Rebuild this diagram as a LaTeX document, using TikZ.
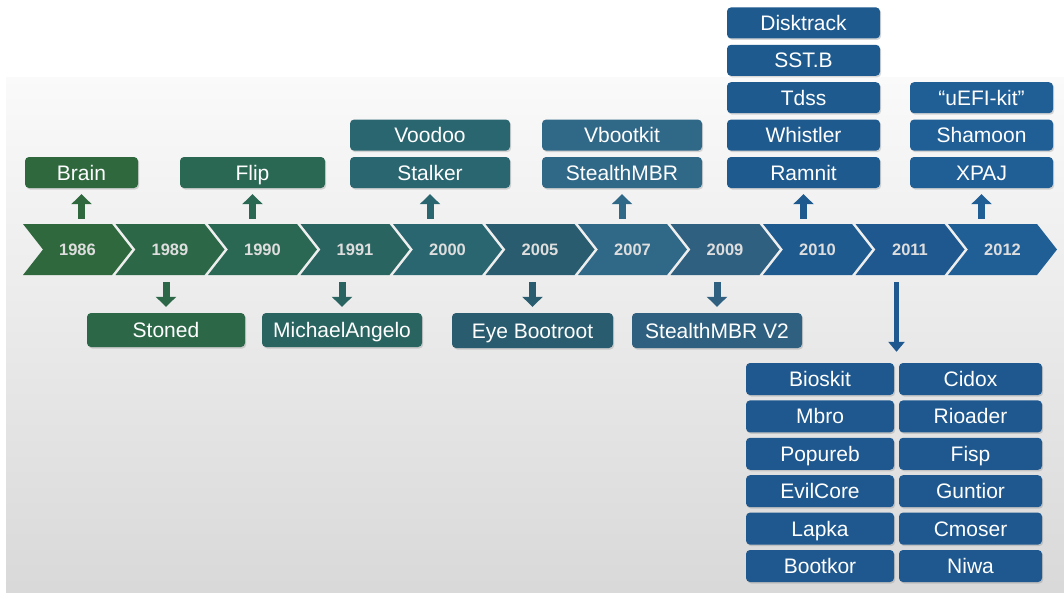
\documentclass[tikz,border=0pt]{standalone}
\usepackage{fontspec}
\setmainfont{Liberation Sans}
\usetikzlibrary{arrows.meta,positioning,shadows,calc}
\definecolor{tl1986}{RGB}{46,104,60}
\definecolor{tl1989}{RGB}{44,104,72}
\definecolor{tl1990}{RGB}{42,104,84}
\definecolor{tl1991}{RGB}{42,100,96}
\definecolor{tl2000}{RGB}{42,102,112}
\definecolor{tl2005}{RGB}{40,92,110}
\definecolor{tl2007}{RGB}{48,104,136}
\definecolor{tl2009}{RGB}{48,96,128}
\definecolor{tl2010}{RGB}{30,90,142}
\definecolor{tl2011}{RGB}{30,88,142}
\definecolor{tl2012}{RGB}{32,94,150}
\tikzset{
    kitbox/.style={rectangle,rounded corners=4pt,fill=#1,text=white,inner sep=0pt,
        minimum height=31pt,text height=17pt,text depth=2pt,font=\fontsize{21}{24}\selectfont,
        drop shadow={shadow xshift=1.2pt,shadow yshift=-1.5pt,opacity=0.3}},
    yearlabel/.style={text=white!87!black,font=\fontsize{16.5}{19}\selectfont\bfseries,
        text height=13pt,text depth=1pt,minimum width=70pt,minimum height=51pt,inner sep=0pt},
    jump/.style={draw=#1,line width=7pt,-{Triangle[width=20pt,length=10pt]}},
}

\begin{document}
\begin{tikzpicture}[x=1pt,y=-1pt]
    \path [use as bounding box,fill=white] (0,0) rectangle (1064,592);
    \path [top color=black!2,bottom color=black!15] (6,77) rectangle (1064,592);
    % timeline
    \foreach \yr [count=\i from 0] in {1986,1989,1990,1991,2000,2005,2007,2009,2010,2011,2012} {
        \path [fill=tl\yr] ({23+92.5*\i},224) -- ++(89,0) -- ++(20,25.5) -- ++(-20,25.5)
            -- ++(-89,0) -- ++(20,-25.5) -- cycle;
        \node (y\yr) at ({77.5+92.5*\i},249.5) [yearlabel] {\yr};
    }
    % above the line
    \node (brain) at (81.5,172.5) [kitbox=tl1986,minimum width=113pt] {Brain};
    \node (flip) at (252.5,172.5) [kitbox=tl1990,minimum width=145pt] {Flip};
    \node (stalker) at (430,172.5) [kitbox=tl2000,minimum width=160pt] {Stalker};
    \node (voodoo) [kitbox=tl2000,minimum width=160pt,above=6pt of stalker] {Voodoo};
    \node (stealthmbr) at (622,172.5) [kitbox=tl2007,minimum width=160pt] {StealthMBR};
    \node (vbootkit) [kitbox=tl2007,minimum width=160pt,above=6pt of stealthmbr] {Vbootkit};
    \node (ramnit) at (803.5,172.5) [kitbox=tl2010,minimum width=153pt] {Ramnit};
    \node (whistler) [kitbox=tl2010,minimum width=153pt,above=6pt of ramnit] {Whistler};
    \node (tdss) [kitbox=tl2010,minimum width=153pt,above=6pt of whistler] {Tdss};
    \node (sstb) [kitbox=tl2010,minimum width=153pt,above=6pt of tdss] {SST.B};
    \node (disktrack) [kitbox=tl2010,minimum width=153pt,above=6pt of sstb] {Disktrack};
    \node (xpaj) at (981.5,172.5) [kitbox=tl2012,minimum width=143pt] {XPAJ};
    \node (shamoon) [kitbox=tl2012,minimum width=143pt,above=6pt of xpaj] {Shamoon};
    \node (uefikit) [kitbox=tl2012,minimum width=143pt,above=6pt of shamoon] {“uEFI-kit”};
    % below the line
    \node (stoned) at (166,330) [kitbox=tl1989,minimum width=158pt,minimum height=34pt] {Stoned};
    \node (michael) at (342,330) [kitbox=tl1991,minimum width=160pt,minimum height=34pt] {MichaelAngelo};
    \node (eye) at (532.5,330.5) [kitbox=tl2005,minimum width=161pt,minimum height=35pt] {Eye Bootroot};
    \node (stealthv2) at (717,330.5) [kitbox=tl2009,minimum width=170pt,minimum height=35pt] {StealthMBR V2};
    % 2011 grid
    \node (bioskit) at (820,379) [kitbox=tl2011,minimum width=148pt,minimum height=32pt] {Bioskit};
    \node (mbro) [kitbox=tl2011,minimum width=148pt,minimum height=32pt,below=5pt of bioskit] {Mbro};
    \node (popureb) [kitbox=tl2011,minimum width=148pt,minimum height=32pt,below=5pt of mbro] {Popureb};
    \node (evilcore) [kitbox=tl2011,minimum width=148pt,minimum height=32pt,below=5pt of popureb] {EvilCore};
    \node (lapka) [kitbox=tl2011,minimum width=148pt,minimum height=32pt,below=5pt of evilcore] {Lapka};
    \node (bootkor) [kitbox=tl2011,minimum width=148pt,minimum height=32pt,below=5pt of lapka] {Bootkor};
    \node (cidox) at (970.5,379) [kitbox=tl2011,minimum width=143pt,minimum height=32pt] {Cidox};
    \node (rioader) [kitbox=tl2011,minimum width=143pt,minimum height=32pt,below=5pt of cidox] {Rioader};
    \node (fisp) [kitbox=tl2011,minimum width=143pt,minimum height=32pt,below=5pt of rioader] {Fisp};
    \node (guntior) [kitbox=tl2011,minimum width=143pt,minimum height=32pt,below=5pt of fisp] {Guntior};
    \node (cmoser) [kitbox=tl2011,minimum width=143pt,minimum height=32pt,below=5pt of guntior] {Cmoser};
    \node (niwa) [kitbox=tl2011,minimum width=143pt,minimum height=32pt,below=5pt of cmoser] {Niwa};
    \coordinate (split) at ($(bioskit.north east)!0.5!(cidox.north west)$);
    % arrows
    \path [jump=tl1986,shorten <=5pt,shorten >=6pt] (brain |- y1986.north) -- (brain.south);
    \path [jump=tl1990,shorten <=5pt,shorten >=6pt] (flip |- y1990.north) -- (flip.south);
    \path [jump=tl2000,shorten <=5pt,shorten >=6pt] (stalker |- y2000.north) -- (stalker.south);
    \path [jump=tl2007,shorten <=5pt,shorten >=6pt] (stealthmbr |- y2007.north) -- (stealthmbr.south);
    \path [jump=tl2010,shorten <=5pt,shorten >=6pt] (ramnit |- y2010.north) -- (ramnit.south);
    \path [jump=tl2012,shorten <=5pt,shorten >=6pt] (xpaj |- y2012.north) -- (xpaj.south);
    \path [jump=tl1989,shorten <=7pt,shorten >=6pt] (stoned |- y1989.south) -- (stoned.north);
    \path [jump=tl1991,shorten <=7pt,shorten >=6pt] (michael |- y1991.south) -- (michael.north);
    \path [jump=tl2005,shorten <=7pt,shorten >=6pt] (eye |- y2005.south) -- (eye.north);
    \path [jump=tl2009,shorten <=7pt,shorten >=6pt] (stealthv2 |- y2009.south) -- (stealthv2.north);
    \path [jump=tl2011,line width=5pt,-{Triangle[width=16pt,length=10pt]},shorten <=7pt,shorten >=11pt] (split |- y2011.south) -- (split);
\end{tikzpicture}
\end{document}
